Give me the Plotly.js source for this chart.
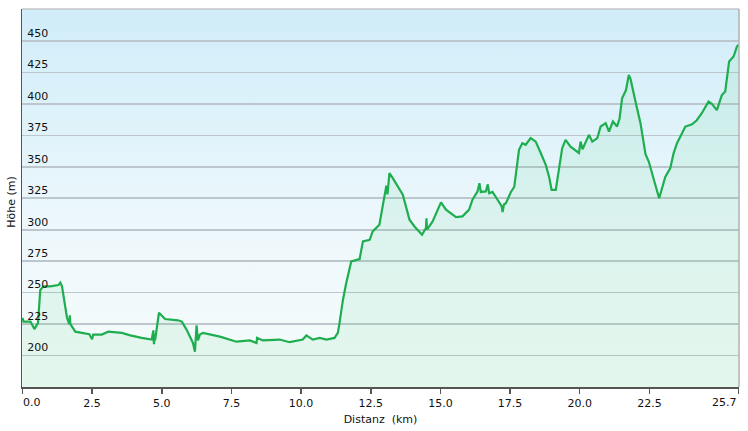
<!DOCTYPE html>
<html>
<head>
<meta charset="utf-8">
<script src="https://cdn.plot.ly/plotly-3.0.1.min.js"></script>
<style>
html,body{margin:0;padding:0;background:#fff;}
#chart{width:748px;height:431px;}
</style>
</head>
<body>
<div id="chart"></div>
<script>
const distKm = [0.00,0.04,0.29,0.43,0.56,0.64,0.75,1.00,1.29,1.36,1.42,1.54,1.60,1.68,1.70,1.72,1.90,2.14,2.40,2.50,2.54,2.85,3.08,3.57,3.87,4.28,4.64,4.70,4.72,4.74,4.76,4.90,5.12,5.58,5.72,5.89,6.12,6.19,6.22,6.25,6.30,6.37,6.48,7.09,7.68,8.16,8.40,8.42,8.63,9.23,9.59,10.06,10.19,10.42,10.67,10.91,11.20,11.32,11.38,11.50,11.62,11.80,12.10,12.22,12.46,12.57,12.81,12.99,13.06,13.10,13.17,13.29,13.47,13.65,13.89,14.07,14.34,14.48,14.50,14.52,14.72,15.02,15.20,15.56,15.79,16.03,16.15,16.33,16.40,16.45,16.63,16.70,16.75,16.87,17.05,17.20,17.23,17.28,17.35,17.53,17.65,17.76,17.82,17.94,18.06,18.24,18.42,18.60,18.78,18.90,18.99,19.14,19.26,19.37,19.49,19.67,19.97,20.03,20.10,20.33,20.45,20.63,20.75,20.93,21.05,21.19,21.34,21.43,21.52,21.66,21.76,21.82,22.00,22.18,22.36,22.48,22.66,22.85,23.07,23.25,23.37,23.49,23.67,23.79,24.03,24.20,24.38,24.62,24.74,24.92,25.10,25.22,25.36,25.52,25.64,25.70];
const elevM = [230,227,227,221,226,252,255,255,256,258,255,239,230,225,232,225,219,218,217,213,216.7,216.7,219,218,216,214,212.7,220,209,214,212,234,229,228,227,220.6,210,203,218,224,212,216.7,218,215,211,212,210,214,212,212.7,210.6,212.7,216,212.7,214,212.7,214,218,226,244,257.7,274.8,276.7,290.7,292,298.7,304,329,335,328,345,341,334,327.8,308,302.6,296,301.3,309,300,306.6,321.7,315.9,310,310.6,316,323.8,330.4,337,330,330.4,336,329,330,323.8,318.5,314,320,321,330,334,355.6,363.5,368.8,367.5,372.8,370,361,351.6,342,331.7,331.7,350,364.8,371.4,366,361,370,364,375.4,370,372.8,382,384.7,378,386,382,388.6,404.5,411,423,420,401.8,384.7,360,354,339.7,325,342,349,360.9,368.8,376.7,382,383.8,387,392.6,401.8,400,395,407,409.8,433.6,437.6,445.5,447];
const yTicks = [200,225,250,275,300,325,350,375,400,425,450];
const xTicks = [0,2.5,5,7.5,10,12.5,15,17.5,20,22.5,25.7];
const xTickText = ['0.0','2.5','5.0','7.5','10.0','12.5','15.0','17.5','20.0','22.5','25.7'];

const lastIdx = xTicks.length - 1;
const axisTickText = xTickText.map((t, i) => (i === lastIdx || i === 0) ? '' : t);

const bgSvg = '<svg xmlns="http://www.w3.org/2000/svg" width="10" height="100" preserveAspectRatio="none">' +
  '<defs><linearGradient id="g" x1="0" y1="0" x2="0" y2="1">' +
  '<stop offset="0" stop-color="#d0edf9"/><stop offset="0.6" stop-color="#eef8fc"/><stop offset="1" stop-color="#f6fcfb"/>' +
  '</linearGradient></defs><rect width="10" height="100" fill="url(#g)"/></svg>';
const bgUri = 'data:image/svg+xml;base64,' + btoa(bgSvg);

const fontFam = 'DejaVu Sans, Verdana, sans-serif';

const trace = {
  x: distKm, y: elevM, type: 'scatter', mode: 'lines',
  line: {color: '#1fae4f', width: 2.2},
  fill: 'tozeroy', fillcolor: 'rgba(70,205,120,0.10)',
  hoverinfo: 'skip'
};

const layout = {
  width: 748, height: 431,
  margin: {l: 22, r: 9, t: 9, b: 44},
  paper_bgcolor: '#ffffff',
  plot_bgcolor: 'rgba(0,0,0,0)',
  showlegend: false,
  images: [{source: bgUri, xref: 'paper', yref: 'paper', x: 0, y: 1, sizex: 1, sizey: 1,
            xanchor: 'left', yanchor: 'top', sizing: 'stretch', layer: 'below'}],
  xaxis: {
    range: [-0.015, 25.715], tickvals: xTicks, ticktext: axisTickText,
    showgrid: false, zeroline: false,
    showline: true, linecolor: '#555555', linewidth: 1.5,
    ticks: 'outside', ticklen: 5, tickcolor: '#555555', tickwidth: 1.5,
    tickfont: {family: fontFam, size: 11, color: '#111'},
    title: {text: 'Distanz&nbsp;&nbsp;(km)', font: {family: fontFam, size: 11, color: '#111'}, standoff: 6},
    automargin: false, fixedrange: true
  },
  yaxis: {
    range: [175, 475.4], tickvals: yTicks,
    showgrid: true, gridcolor: '#bcc6cc', gridwidth: 1.6,
    zeroline: false,
    showline: true, linecolor: '#555555', linewidth: 1.5,
    ticks: '', ticklabelposition: 'outside', ticklabelstandoff: -30, ticklabelshift: -8,
    tickfont: {family: fontFam, size: 11, color: '#111'},
    automargin: false, fixedrange: true
  },
  annotations: [{
    text: 'Höhe (m)', xref: 'paper', yref: 'paper', x: 0, y: 0.49, xshift: -10,
    xanchor: 'center', yanchor: 'middle', textangle: -90, showarrow: false,
    font: {family: fontFam, size: 11, color: '#111'}
  }, {
    text: xTickText[0], xref: 'x', yref: 'paper', x: xTicks[0], y: 0,
    xanchor: 'left', yanchor: 'top', xshift: -1, yshift: -7, showarrow: false,
    font: {family: fontFam, size: 11, color: '#111'}
  }, {
    text: xTickText[lastIdx], xref: 'x', yref: 'paper', x: xTicks[lastIdx], y: 0,
    xanchor: 'right', yanchor: 'top', xshift: 0, yshift: -7, showarrow: false,
    font: {family: fontFam, size: 11, color: '#111'}
  }],
  shapes: [
    {type: 'line', xref: 'paper', yref: 'paper', x0: 0, x1: 1, y0: 1, y1: 1, line: {color: '#c4c4c4', width: 1.5}},
    {type: 'line', xref: 'paper', yref: 'paper', x0: 1, x1: 1, y0: 0, y1: 1, line: {color: '#b0b0b0', width: 1.5}}
  ]
};

Plotly.newPlot('chart', [trace], layout, {displayModeBar: false, staticPlot: true});
</script>
</body>
</html>
